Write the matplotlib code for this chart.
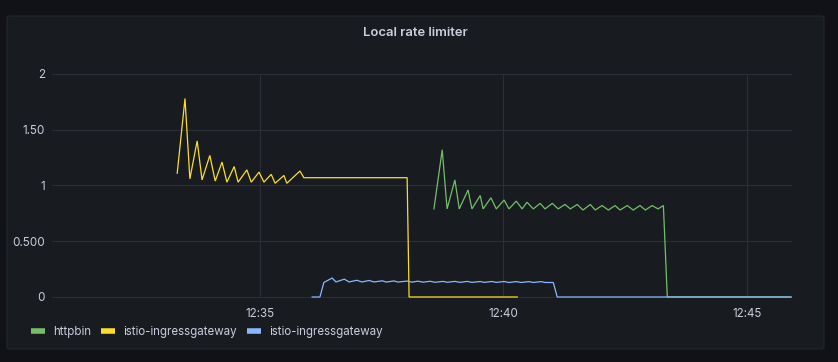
import matplotlib
matplotlib.use("Agg")
import matplotlib.pyplot as plt
from matplotlib.patches import FancyBboxPatch
from matplotlib.lines import Line2D

plt.rcParams['font.family'] = ['Inter', 'DejaVu Sans']

# time in minutes after 12:00
t_httpbin = [38.58, 38.75, 38.85, 39.01, 39.10, 39.28, 39.36, 39.53, 39.59, 39.75,
             39.86, 40.02, 40.12, 40.27, 40.39, 40.49, 40.62, 40.76, 40.86, 41.01,
             41.13, 41.27, 41.38, 41.52, 41.64, 41.79, 41.89, 42.03, 42.16, 42.30,
             42.40, 42.55, 42.67, 42.81, 42.92, 43.06, 43.18, 43.29, 43.37, 45.91]
v_httpbin = [0.79, 1.32, 0.79, 1.05, 0.79, 0.96, 0.79, 0.91, 0.79, 0.89,
             0.79, 0.87, 0.79, 0.86, 0.79, 0.85, 0.79, 0.84, 0.79, 0.84,
             0.79, 0.83, 0.79, 0.83, 0.78, 0.83, 0.78, 0.82, 0.78, 0.82,
             0.78, 0.82, 0.78, 0.82, 0.78, 0.82, 0.79, 0.82, 0.0, 0.0]

t_gw_yellow = [33.31, 33.47, 33.57, 33.72, 33.82, 33.98, 34.09, 34.23, 34.33, 34.48,
               34.56, 34.74, 34.83, 34.99, 35.09, 35.24, 35.32, 35.50, 35.56, 35.83,
               35.91, 38.03, 38.07, 40.29]
v_gw_yellow = [1.11, 1.78, 1.06, 1.40, 1.05, 1.27, 1.04, 1.21, 1.03, 1.17,
               1.03, 1.14, 1.03, 1.12, 1.03, 1.10, 1.02, 1.09, 1.02, 1.13,
               1.07, 1.07, 0.0, 0.0]

t_gw_blue = [36.08, 36.24, 36.32, 36.49, 36.57, 36.74, 36.84, 37.00, 37.10, 37.25,
             37.35, 37.52, 37.60, 37.76, 37.84, 38.03, 38.13, 38.25, 38.36, 38.50,
             38.60, 38.77, 38.85, 39.01, 39.12, 39.26, 39.36, 39.53, 39.61, 39.77,
             39.86, 40.02, 40.12, 40.27, 40.37, 40.53, 40.62, 40.78, 40.86, 41.03,
             41.11, 45.91]
v_gw_blue = [0.0, 0.0, 0.13, 0.17, 0.135, 0.16, 0.135, 0.15, 0.135, 0.148,
             0.135, 0.145, 0.134, 0.144, 0.134, 0.143, 0.133, 0.142, 0.133, 0.141,
             0.132, 0.140, 0.132, 0.140, 0.131, 0.140, 0.131, 0.139, 0.131, 0.139,
             0.131, 0.139, 0.130, 0.138, 0.130, 0.138, 0.130, 0.138, 0.130, 0.13,
             0.0, 0.0]

y_ticks = [0, 0.5, 1, 1.5, 2]
y_labels = ['0', '0.500', '1', '1.50', '2']
x_ticks = [35, 40, 45]
x_labels = ['12:35', '12:40', '12:45']

series = [
    ('httpbin', t_httpbin, v_httpbin, '#73bf69'),
    ('istio-ingressgateway', t_gw_yellow, v_gw_yellow, '#fade2a'),
    ('istio-ingressgateway', t_gw_blue, v_gw_blue, '#8ab8ff'),
]

W, H = 838, 362
fig = plt.figure(figsize=(W / 100, H / 100), dpi=100)
fig.patch.set_facecolor('#111217')

# panel background
panel = FancyBboxPatch((7 / W, 1 - 349 / H), (824 - 7) / W, (349 - 16) / H,
                       boxstyle='round,pad=0,rounding_size=0.004',
                       transform=fig.transFigure, facecolor='#181b1f',
                       edgecolor='#24272c', linewidth=0.8, zorder=-5)
fig.patches.append(panel)

ax = fig.add_axes([52 / W, 1 - 298 / H, (792 - 52) / W, (298 - 74) / H])
ax.set_facecolor('none')
ax.set_zorder(2)

for name, t, v, c in series:
    ax.plot(t, v, color=c, lw=0.9, solid_joinstyle='miter', clip_on=False)

ax.set_xlim(30.74, 45.93)
ax.set_ylim(-0.009, 2.0)
ax.set_yticks(y_ticks)
ax.set_yticklabels(y_labels)
ax.set_xticks(x_ticks)
ax.set_xticklabels(x_labels)
ax.tick_params(colors='#ccccdc', labelsize=8.4, length=0)
ax.tick_params(axis='y', pad=5)
ax.tick_params(axis='x', pad=7)
ax.grid(True, color='#2c2f35', lw=0.75)
ax.set_axisbelow(True)
for s in ax.spines.values():
    s.set_visible(False)

fig.text(415.5 / W, 1 - 33 / H, 'Local rate limiter', ha='center', va='center',
         color='#ccccdc', fontsize=9.4, fontweight='semibold')

handles = [Line2D([], [], color=c, lw=4, solid_capstyle='butt') for _, _, _, c in series]
fig.legend(handles, [s[0] for s in series], loc='center left',
           bbox_to_anchor=(31 / W, 1 - 332 / H), ncol=3, frameon=False,
           borderpad=0, borderaxespad=0, handlelength=1.2, handletextpad=0.7,
           columnspacing=0.9, labelcolor='#ccccdc', fontsize=8.3)

fig.savefig('out.png', dpi=100, facecolor=fig.get_facecolor())
